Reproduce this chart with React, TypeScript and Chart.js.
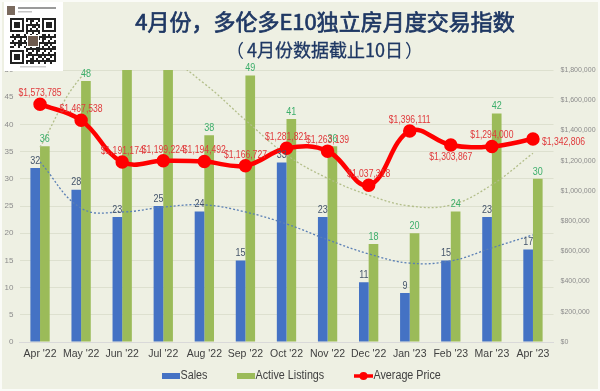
import React, { useEffect, useRef } from "react";
import { Chart, registerables } from "chart.js";
Chart.register(...registerables);

const months = ["Apr '22", "May '22", "Jun '22", "Jul '22", "Aug '22", "Sep '22", "Oct '22", "Nov '22", "Dec '22", "Jan '23", "Feb '23", "Mar '23", "Apr '23"];
const sales = [32, 28, 23, 25, 24, 15, 33, 23, 11, 9, 15, 23, 17];
const activeListings = [36, 48, 52, 53, 38, 49, 41, 36, 18, 20, 24, 42, 30];
const averagePrice = [1573785, 1467538, 1191174, 1199224, 1194492, 1166727, 1281821, 1263139, 1037318, 1396111, 1303867, 1294000, 1342806];
const salesTrend = [33.1, 24.6, 23.9, 24.8, 25.2, 23.9, 21.7, 18.8, 16.2, 14.5, 14.9, 17.3, 19.7];
const listingsTrend = [35.8, 48.7, 53.5, 52.5, 47.5, 40.8, 34.4, 30.1, 27.0, 25.0, 25.2, 28.9, 34.7];
const leftMax = 50;
const leftStep = 5;
const rightMax = 1800000;
const rightStep = 200000;
const titleText = "4月份，多伦多E10独立房月度交易指数";
const subtitleParts = ["（", "4月份数据截止10日", "）"];
const legendLabels = ["Sales", "Active Listings", "Average Price"];
const priceLabelPos = ["above", "above", "above", "above", "above", "above", "above", "above", "above", "above", "below", "above", "right"];

const FAM = "'Liberation Sans', Arial, sans-serif";
const CJK = "'Noto Sans CJK SC', sans-serif";
const BLUE = "#4472C4";
const GREEN = "#9BBB59";
const RED = "#FF0000";

function cText(ctx: CanvasRenderingContext2D, text: string, x: number, y: number, font: string, color: string, align: string, sx: number) {
  ctx.save();
  ctx.font = font;
  ctx.fillStyle = color;
  ctx.textBaseline = "middle";
  ctx.textAlign = "left";
  const w = ctx.measureText(text).width * sx;
  const left = align === "center" ? x - w / 2 : align === "right" ? x - w : x;
  ctx.translate(left, y);
  ctx.scale(sx, 1);
  ctx.fillText(text, 0, 0);
  ctx.restore();
}

const bgPlugin = {
  id: "bg",
  beforeDraw(chart: any) {
    const ctx = chart.ctx;
    ctx.save();
    ctx.fillStyle = "#EEF0E3";
    ctx.fillRect(0, 0, chart.width, chart.height);
    ctx.strokeStyle = "rgba(255,255,255,0.7)";
    ctx.lineWidth = 2;
    ctx.strokeRect(1, 1, chart.width - 2, chart.height - 2);
    ctx.restore();
  },
};

const labelPlugin = {
  id: "labels",
  afterDatasetsDraw(chart: any) {
    const ctx = chart.ctx;
    const area = chart.chartArea;
    [3, 4].forEach((di) => {
      const meta = chart.getDatasetMeta(di);
      const vals = chart.data.datasets[di].data;
      const color = di === 3 ? "#44546A" : "#3DAE6B";
      meta.data.forEach((el: any, i: number) => {
        if (vals[i] > leftMax) return;
        const y = el.y - 7;
        if (y < area.top - 8) return;
        cText(ctx, String(vals[i]), el.x, y, `10px ${FAM}`, color, "center", 0.9);
      });
    });
    const pm = chart.getDatasetMeta(0);
    pm.data.forEach((el: any, i: number) => {
      const txt = "$" + averagePrice[i].toLocaleString("en-US");
      const pos = priceLabelPos[i];
      const font = `10.5px ${FAM}`;
      if (pos === "above") cText(ctx, txt, el.x, el.y - 11, font, "#E0393B", "center", 0.82);
      else if (pos === "below") cText(ctx, txt, el.x, el.y + 12, font, "#E0393B", "center", 0.82);
      else cText(ctx, txt, el.x + 9, el.y + 3, font, "#E0393B", "left", 0.82);
    });
  },
};

const overlayPlugin = {
  id: "overlay",
  afterDraw(chart: any) {
    const ctx = chart.ctx;
    ctx.save();
    ctx.fillStyle = "#1F3864";
    ctx.strokeStyle = "#1F3864";
    ctx.lineWidth = 0.7;
    ctx.textAlign = "center";
    ctx.textBaseline = "middle";
    ctx.font = `22px ${CJK}`;
    ctx.fillText(titleText, 325, 22);
    ctx.strokeText(titleText, 325, 22);
    ctx.font = `18px ${CJK}`;
    ctx.textAlign = "left";
    ctx.lineWidth = 0.3;
    const midW = ctx.measureText(subtitleParts[1]).width;
    const pw = 18;
    const total = pw * 2 + midW;
    const sx0 = 325 - total / 2;
    ctx.fillText(subtitleParts[0], sx0 - 3, 50);
    ctx.fillText(subtitleParts[1], sx0 + pw, 50);
    ctx.strokeText(subtitleParts[1], sx0 + pw, 50);
    ctx.fillText(subtitleParts[2], sx0 + pw + midW + 2, 50);
    ctx.restore();

    // legend
    const ly = 376;
    const lf = `12.5px ${FAM}`;
    ctx.save();
    ctx.fillStyle = BLUE;
    ctx.fillRect(162, ly - 3, 18, 6);
    ctx.fillStyle = GREEN;
    ctx.fillRect(237, ly - 3, 18, 6);
    ctx.strokeStyle = RED;
    ctx.lineWidth = 3.5;
    ctx.beginPath();
    ctx.moveTo(354, ly);
    ctx.lineTo(373, ly);
    ctx.stroke();
    ctx.fillStyle = RED;
    ctx.beginPath();
    ctx.arc(363.5, ly, 4, 0, Math.PI * 2);
    ctx.fill();
    ctx.restore();
    cText(ctx, legendLabels[0], 180.5, ly, lf, "#404040", "left", 0.86);
    cText(ctx, legendLabels[1], 255.5, ly, lf, "#404040", "left", 0.86);
    cText(ctx, legendLabels[2], 373.5, ly, lf, "#404040", "left", 0.86);

    // QR card (decorative)
    ctx.save();
    ctx.fillStyle = "#FFFFFF";
    ctx.fillRect(4, 2, 59, 69);
    ctx.fillStyle = "#7a6a5e";
    ctx.fillRect(7, 6, 8, 9);
    ctx.fillStyle = "#9a9a9a";
    ctx.fillRect(18, 7, 38, 2);
    ctx.fillStyle = "#c4c4c4";
    ctx.fillRect(18, 11, 14, 1.5);
    const qx = 10, qy = 18, m = 2, n = 23;
    ctx.fillStyle = "#222";
    for (let i = 0; i < n; i++) {
      for (let j = 0; j < n; j++) {
        const inFinder = (i < 8 && j < 8) || (i < 8 && j >= n - 8) || (i >= n - 8 && j < 8);
        if (inFinder) continue;
        if ((i * i + j * 3 + i * j) % 3 === 0 || (i + 2 * j) % 7 === 0) ctx.fillRect(qx + j * m, qy + i * m, m, m);
      }
    }
    const finder = (fx: number, fy: number) => {
      ctx.fillStyle = "#222";
      ctx.fillRect(fx, fy, 14, 14);
      ctx.fillStyle = "#fff";
      ctx.fillRect(fx + 2, fy + 2, 10, 10);
      ctx.fillStyle = "#222";
      ctx.fillRect(fx + 4, fy + 4, 6, 6);
    };
    finder(qx, qy);
    finder(qx + (n - 7) * m, qy);
    finder(qx, qy + (n - 7) * m);
    ctx.fillStyle = "#fff";
    ctx.fillRect(qx + 17, qy + 17, 12, 12);
    ctx.fillStyle = "#6d5a4e";
    ctx.fillRect(qx + 18, qy + 18, 10, 10);
    ctx.fillStyle = "#cfcfcf";
    ctx.fillRect(20, 66, 26, 1.5);
    ctx.restore();
  },
};

export default function App() {
  const ref = useRef<HTMLCanvasElement>(null);
  useEffect(() => {
    if (!ref.current) return;
    const chart = new Chart(ref.current, {
      data: {
        labels: months,
        datasets: [
          {
            type: "line",
            label: "Average Price",
            data: averagePrice,
            yAxisID: "y1",
            borderColor: RED,
            backgroundColor: RED,
            borderWidth: 4.5,
            pointRadius: 4.5,
            pointBackgroundColor: RED,
            pointBorderColor: RED,
            tension: 0.4,
            order: 0,
          },
          {
            type: "line",
            label: "Sales trend",
            data: salesTrend,
            yAxisID: "y",
            borderColor: "#5A7FB5",
            borderWidth: 1.3,
            borderDash: [2, 2],
            pointRadius: 0,
            tension: 0.4,
            order: 1,
          },
          {
            type: "line",
            label: "Listings trend",
            data: listingsTrend,
            yAxisID: "y",
            borderColor: "#B3BE8A",
            borderWidth: 1.3,
            borderDash: [2, 2],
            pointRadius: 0,
            tension: 0.4,
            order: 1,
          },
          {
            type: "bar",
            label: "Sales",
            data: sales,
            yAxisID: "y",
            backgroundColor: BLUE,
            categoryPercentage: 0.47,
            barPercentage: 1,
            order: 2,
          },
          {
            type: "bar",
            label: "Active Listings",
            data: activeListings,
            yAxisID: "y",
            backgroundColor: GREEN,
            categoryPercentage: 0.47,
            barPercentage: 1,
            order: 2,
          },
        ],
      } as any,
      options: {
        responsive: false,
        animation: false,
        layout: { padding: { top: 70, left: 0, right: 0, bottom: 0 } },
        plugins: { legend: { display: false }, tooltip: { enabled: false }, title: { display: false } },
        scales: {
          x: {
            grid: { display: false, drawTicks: false },
            border: { color: "#D9D9D9", width: 1 },
            ticks: { color: "#404040", font: { size: 10.5, family: FAM }, padding: 6, maxRotation: 0, autoSkip: false },
            afterFit(s: any) { s.height = 49; },
          },
          y: {
            position: "left",
            min: 0,
            max: leftMax,
            ticks: { stepSize: leftStep, color: "#8C8C8C", font: { size: 8, family: FAM }, padding: 6 },
            grid: { color: "rgba(190,195,170,0.35)", drawTicks: false },
            border: { display: false },
            afterFit(s: any) { s.width = 19.5; },
          },
          y1: {
            position: "right",
            min: 0,
            max: rightMax,
            ticks: {
              stepSize: rightStep,
              color: "#8C8C8C",
              font: { size: 7, family: FAM },
              padding: 7,
              callback: (v: any) => "$" + Number(v).toLocaleString("en-US"),
            },
            grid: { display: false, drawTicks: false },
            border: { display: false },
            afterFit(s: any) { s.width = 46.5; },
          },
        },
      } as any,
      plugins: [bgPlugin, labelPlugin, overlayPlugin],
    });
    return () => chart.destroy();
  }, []);
  return (
    <canvas
      ref={ref}
      width={600}
      height={391}
      style={{ position: "fixed", left: 0, top: 0, width: 600, height: 391 }}
    />
  );
}
